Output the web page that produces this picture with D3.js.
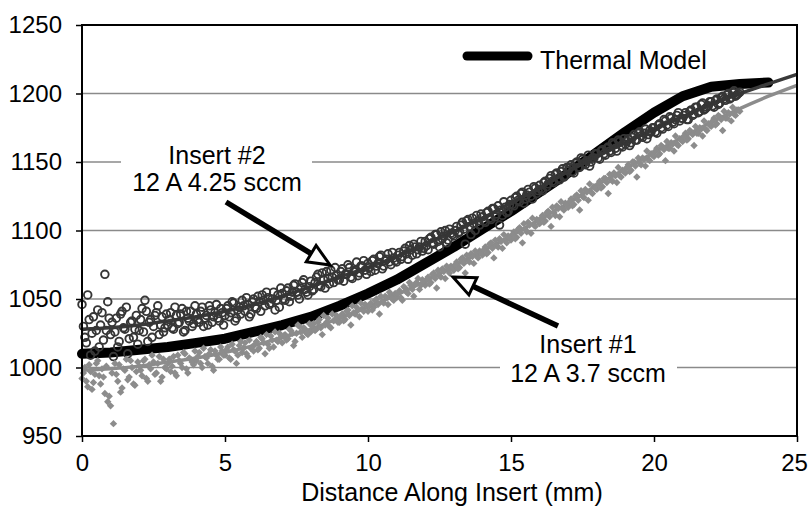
<!DOCTYPE html>
<html><head><meta charset="utf-8">
<script src="https://cdn.jsdelivr.net/npm/d3@7"></script>
<style>body{margin:0;background:#fff}svg{display:block}text{font-family:"Liberation Sans",Arial,sans-serif;fill:#000}</style>
</head><body><svg id="c" width="809" height="508"></svg>
<script>
// Measurement positions, scan A (mm)
const distance = [
0.0,0.1,0.2,0.3,0.4,0.5,0.6,0.7,0.8,0.9,
1.0,1.1,1.2,1.3,1.4,1.5,1.6,1.7,1.8,1.9,
2.0,2.1,2.2,2.3,2.4,2.5,2.6,2.7,2.8,2.9,
3.0,3.1,3.2,3.3,3.4,3.5,3.6,3.7,3.8,3.9,
4.0,4.1,4.2,4.3,4.4,4.5,4.6,4.7,4.8,4.9,
5.0,5.1,5.2,5.3,5.4,5.5,5.6,5.7,5.8,5.9,
6.0,6.1,6.2,6.3,6.4,6.5,6.6,6.7,6.8,6.9,
7.0,7.1,7.2,7.3,7.4,7.5,7.6,7.7,7.8,7.9,
8.0,8.1,8.2,8.3,8.4,8.5,8.6,8.7,8.8,8.9,
9.0,9.1,9.2,9.3,9.4,9.5,9.6,9.7,9.8,9.9,
10.0,10.1,10.2,10.3,10.4,10.5,10.6,10.7,10.8,10.9,
11.0,11.1,11.2,11.3,11.4,11.5,11.6,11.7,11.8,11.9,
12.0,12.1,12.2,12.3,12.4,12.5,12.6,12.7,12.8,12.9,
13.0,13.1,13.2,13.3,13.4,13.5,13.6,13.7,13.8,13.9,
14.0,14.1,14.2,14.3,14.4,14.5,14.6,14.7,14.8,14.9,
15.0,15.1,15.2,15.3,15.4,15.5,15.6,15.7,15.8,15.9,
16.0,16.1,16.2,16.3,16.4,16.5,16.6,16.7,16.8,16.9,
17.0,17.1,17.2,17.3,17.4,17.5,17.6,17.7,17.8,17.9,
18.0,18.1,18.2,18.3,18.4,18.5,18.6,18.7,18.8,18.9,
19.0,19.1,19.2,19.3,19.4,19.5,19.6,19.7,19.8,19.9,
20.0,20.1,20.2,20.3,20.4,20.5,20.6,20.7,20.8,20.9,
21.0,21.1,21.2,21.3,21.4,21.5,21.6,21.7,21.8,21.9,
22.0,22.1,22.2,22.3,22.4,22.5,22.6,22.7,22.8,22.9,
23.0];

// Measurement positions, scan B (mm)
const distanceB = [
0.05,0.15,0.25,0.35,0.45,0.55,0.65,0.75,0.85,0.95,
1.05,1.15,1.25,1.35,1.45,1.55,1.65,1.75,1.85,1.95,
2.05,2.15,2.25,2.35,2.45,2.55,2.65,2.75,2.85,2.95,
3.05,3.15,3.25,3.35,3.45,3.55,3.65,3.75,3.85,3.95,
4.05,4.15,4.25,4.35,4.45,4.55,4.65,4.75,4.85,4.95,
5.05,5.15,5.25,5.35,5.45,5.55,5.65,5.75,5.85,5.95,
6.05,6.15,6.25,6.35,6.45,6.55,6.65,6.75,6.85,6.95,
7.05,7.15,7.25,7.35,7.45,7.55,7.65,7.75,7.85,7.95,
8.05,8.15,8.25,8.35,8.45,8.55,8.65,8.75,8.85,8.95,
9.05,9.15,9.25,9.35,9.45,9.55,9.65,9.75,9.85,9.95,
10.05,10.15,10.25,10.35,10.45,10.55,10.65,10.75,10.85,10.95,
11.05,11.15,11.25,11.35,11.45,11.55,11.65,11.75,11.85,11.95,
12.05,12.15,12.25,12.35,12.45,12.55,12.65,12.75,12.85,12.95,
13.05,13.15,13.25,13.35,13.45,13.55,13.65,13.75,13.85,13.95,
14.05,14.15,14.25,14.35,14.45,14.55,14.65,14.75,14.85,14.95,
15.05,15.15,15.25,15.35,15.45,15.55,15.65,15.75,15.85,15.95,
16.05,16.15,16.25,16.35,16.45,16.55,16.65,16.75,16.85,16.95,
17.05,17.15,17.25,17.35,17.45,17.55,17.65,17.75,17.85,17.95,
18.05,18.15,18.25,18.35,18.45,18.55,18.65,18.75,18.85,18.95,
19.05,19.15,19.25,19.35,19.45,19.55,19.65,19.75,19.85,19.95,
20.05,20.15,20.25,20.35,20.45,20.55,20.65,20.75,20.85,20.95,
21.05,21.15,21.25,21.35,21.45,21.55,21.65,21.75,21.85,21.95,
22.05,22.15,22.25,22.35,22.45,22.55,22.65,22.75,22.85,22.95];

// Insert #2, 12 A 4.25 sccm (open circles), scan A
const insert2Temp = [
1046,1022,1053,1009,1037,1027,1015,1040,1068,1048,
1024,1008,1036,1019,1041,1028,1010,1033,1022,1038,
1027,1043,1049,1019,1035,1030,1040,1024,1037,1029,
1031,1040,1028,1038,1033,1043,1027,1036,1041,1032,
1039,1033,1044,1036,1031,1042,1037,1046,1034,1040,
1038,1045,1040,1047,1036,1044,1049,1041,1046,1039,
1050,1043,1048,1053,1045,1051,1047,1055,1049,1044,
1054,1049,1058,1052,1060,1055,1050,1062,1057,1053,
1063,1057,1066,1060,1069,1058,1065,1071,1062,1067,
1064,1072,1068,1075,1066,1070,1077,1069,1074,1071,
1076,1070,1079,1074,1081,1072,1078,1083,1075,1080,
1077,1084,1081,1087,1079,1086,1090,1083,1088,1085,
1092,1086,1095,1090,1097,1088,1094,1100,1093,1098,
1096,1103,1099,1106,1090,1108,1097,1105,1111,1104,
1110,1106,1114,1108,1116,1112,1104,1111,1117,1114,
1122,1118,1125,1121,1128,1123,1130,1125,1132,1127,
1133,1129,1136,1134,1140,1135,1142,1137,1145,1140,
1144,1148,1142,1150,1146,1152,1148,1155,1150,1153,
1156,1152,1159,1155,1161,1157,1163,1158,1165,1161,
1163,1167,1164,1170,1166,1172,1168,1174,1170,1172,
1175,1171,1178,1174,1180,1176,1182,1178,1184,1180,
1182,1186,1181,1188,1185,1190,1187,1193,1189,1191,
1194,1190,1196,1193,1198,1195,1200,1197,1202,1199,
1201];

// Insert #2, scan B
const insert2TempB = [
1030,1018,1035,1025,1012,1042,1031,1020,1027,1036,
1033,1026,1015,1039,1029,1044,1021,1034,1028,1017,
1035,1026,1041,1033,1022,1038,1045,1031,1026,1039,
1035,1029,1044,1032,1039,1026,1041,1034,1030,1045,
1035,1041,1030,1038,1045,1033,1040,1036,1043,1031,
1043,1037,1048,1034,1042,1039,1045,1051,1037,1048,
1044,1052,1041,1049,1055,1046,1050,1042,1053,1058,
1050,1056,1048,1055,1061,1053,1058,1064,1055,1059,
1056,1062,1068,1059,1064,1070,1061,1066,1073,1064,
1070,1063,1068,1073,1065,1071,1067,1074,1078,1068,
1073,1078,1071,1076,1082,1074,1079,1077,1084,1078,
1082,1079,1085,1083,1089,1082,1088,1086,1092,1087,
1089,1094,1091,1097,1092,1099,1096,1091,1101,1097,
1100,1098,1104,1101,1107,1103,1109,1100,1107,1112,
1107,1113,1109,1116,1110,1118,1115,1121,1113,1119,
1119,1124,1122,1127,1120,1126,1128,1123,1131,1129,
1130,1135,1132,1138,1136,1141,1138,1143,1139,1146,
1146,1143,1149,1146,1153,1149,1151,1147,1153,1156,
1153,1158,1156,1160,1158,1164,1160,1166,1162,1167,
1165,1162,1168,1166,1171,1169,1171,1167,1173,1175,
1172,1177,1175,1181,1177,1183,1179,1181,1186,1182,
1184,1181,1187,1184,1190,1186,1192,1188,1190,1194,
1191,1195,1192,1197,1196,1199,1196,1201,1198,1200];

// Insert #1, 12 A 3.7 sccm (diamonds), scan A
const insert1Temp = [
992,1000,986,997,989,1003,994,999,981,975,
972,959,995,1002,985,998,991,1005,988,997,
1001,994,1006,990,999,1004,996,1008,993,1000,
1003,997,1008,994,1005,1000,1010,996,1006,1002,
1005,1011,1000,1008,1003,1013,998,1009,1006,1012,
1009,1015,1006,1013,1003,1016,1011,1018,1008,1014,
1012,1019,1014,1021,1010,1017,1023,1015,1020,1025,
1018,1024,1021,1027,1016,1025,1030,1022,1028,1024,
1026,1032,1028,1035,1024,1031,1036,1029,1034,1038,
1033,1039,1035,1042,1031,1040,1044,1037,1043,1046,
1041,1047,1044,1050,1039,1048,1052,1046,1053,1049,
1051,1056,1049,1058,1054,1060,1052,1062,1057,1064,
1060,1066,1062,1069,1058,1067,1072,1065,1071,1074,
1071,1077,1073,1080,1069,1078,1083,1076,1082,1085,
1082,1088,1084,1091,1080,1089,1094,1087,1093,1096,
1093,1099,1095,1102,1091,1101,1106,1098,1104,1108,
1105,1111,1107,1114,1103,1113,1118,1110,1116,1120,
1117,1123,1119,1126,1115,1125,1130,1122,1128,1132,
1130,1136,1132,1138,1127,1137,1142,1135,1140,1144,
1142,1148,1144,1150,1139,1149,1153,1147,1152,1156,
1154,1160,1156,1161,1151,1160,1164,1158,1163,1167,
1165,1171,1167,1172,1162,1171,1175,1169,1174,1178,
1176,1182,1178,1183,1173,1182,1186,1180,1185,1188,
1187];

// Insert #1, scan B
const insert1TempB = [
996,990,1002,984,995,1005,988,993,1001,979,
996,1003,990,982,999,1006,993,1000,987,1004,
998,1005,992,1002,1009,995,1003,990,1006,999,
1006,1001,996,1009,1003,1011,999,1007,1004,1012,
1008,1003,1014,1007,1010,1001,1012,1006,1015,1009,
1013,1007,1017,1012,1009,1019,1014,1010,1020,1015,
1017,1013,1022,1018,1024,1014,1020,1026,1019,1022,
1023,1020,1028,1025,1019,1031,1026,1029,1025,1032,
1030,1027,1033,1029,1038,1033,1030,1039,1035,1033,
1037,1034,1041,1038,1045,1039,1042,1047,1041,1045,
1045,1042,1049,1046,1052,1047,1051,1055,1050,1054,
1054,1051,1059,1055,1062,1057,1061,1065,1060,1063,
1064,1061,1068,1065,1071,1066,1070,1074,1069,1073,
1075,1072,1079,1076,1082,1077,1081,1085,1080,1084,
1086,1083,1090,1087,1093,1088,1092,1097,1091,1095,
1097,1094,1101,1098,1105,1099,1104,1109,1103,1107,
1109,1106,1113,1110,1117,1111,1116,1121,1115,1119,
1121,1118,1125,1122,1129,1124,1128,1134,1127,1131,
1134,1131,1138,1135,1141,1136,1140,1146,1139,1143,
1146,1143,1150,1147,1153,1148,1152,1158,1151,1155,
1158,1155,1162,1159,1165,1160,1163,1169,1162,1166,
1169,1166,1173,1170,1176,1171,1174,1180,1173,1177,
1180,1177,1184,1181,1187,1182,1185,1190,1184,1188];

// Thermal model
const modelDistance = [0,1,2,3,4,5,6,7,8,9,10,11,12,13,14,15,16,17,18,19,20,21,22,23,24];
const modelTemp = [1010,1011,1013,1015,1018,1021,1026,1031,1037,1045,1054,1064,1076,1088,1101,1114,1128,1142,1157,1172,1186,1198,1205,1207,1208];

// Trend lines
const trendDistance = [0,1,2,3,4,5,6,7,8,9,10,11,12,13,14,15,16,17,18,19,20,21,22,23,24,25];
const insert2Trend = [1028,1029,1031,1034,1037,1041,1046,1052,1059,1066,1073,1081,1090,1099,1109,1120,1131,1143,1154,1164,1174,1183,1192,1200,1207,1214];
const insert1Trend = [998,999,1001,1004,1007,1011,1016,1022,1028,1036,1044,1053,1063,1074,1085,1096,1108,1120,1133,1145,1157,1168,1179,1189,1198,1206];

const xTicks = [0,5,10,15,20,25];
const yTicks = [950,1000,1050,1100,1150,1200,1250];
const xTitle = "Distance Along Insert (mm)";
const legendLabel = "Thermal Model";
const note2 = ["Insert #2","12 A 4.25 sccm"];
const note1 = ["Insert #1","12 A 3.7 sccm"];

const svg = d3.select("#c");
const L=82,R=797,T=25,B=436;
const x = d3.scaleLinear().domain([0,25]).range([L,R]);
const y = d3.scaleLinear().domain([950,1250]).range([B,T]);
const FS = 25, TFS = 24;

// gridlines
svg.append("g").selectAll("line").data(yTicks.filter(v=>v>950&&v<1250)).join("line")
  .attr("x1",L).attr("x2",R).attr("y1",d=>y(d)).attr("y2",d=>y(d))
  .attr("stroke","#8a8a8a").attr("stroke-width",1.6);

// thermal model
svg.append("path").datum(modelDistance.map((d,i)=>[d,modelTemp[i]]))
  .attr("d",d3.line().x(d=>x(d[0])).y(d=>y(d[1])))
  .attr("fill","none").attr("stroke","#000").attr("stroke-width",10)
  .attr("stroke-linejoin","round").attr("stroke-linecap","round");

// trend lines
const tl = d3.line().x(d=>x(d[0])).y(d=>y(d[1])).curve(d3.curveMonotoneX);
svg.append("path").datum(trendDistance.map((d,i)=>[d,insert2Trend[i]]))
  .attr("d",tl).attr("fill","none").attr("stroke","#3a3a3a").attr("stroke-width",3.5);
svg.append("path").datum(trendDistance.map((d,i)=>[d,insert1Trend[i]]))
  .attr("d",tl).attr("fill","none").attr("stroke","#8c8c8c").attr("stroke-width",3.5);

// insert #2 circles
const pts2 = distance.map((d,i)=>[d,insert2Temp[i]]).concat(distanceB.map((d,i)=>[d,insert2TempB[i]]));
svg.append("g").selectAll("circle").data(pts2).join("circle")
  .attr("cx",d=>x(d[0])).attr("cy",d=>y(d[1])).attr("r",3.8)
  .attr("fill","none").attr("stroke","#363636").attr("stroke-width",1.9);

// insert #1 diamonds
const pts1 = distance.map((d,i)=>[d,insert1Temp[i]]).concat(distanceB.map((d,i)=>[d,insert1TempB[i]]));
svg.append("g").selectAll("path").data(pts1).join("path")
  .attr("d",d=>{const cx=x(d[0]),cy=y(d[1]),s=3.7;return `M${cx},${cy-s}L${cx+s},${cy}L${cx},${cy+s}L${cx-s},${cy}Z`;})
  .attr("fill","#8c8c8c");

// plot border
svg.append("rect").attr("x",L).attr("y",T).attr("width",R-L).attr("height",B-T)
  .attr("fill","none").attr("stroke","#000").attr("stroke-width",2);

// axes
const gx = svg.append("g").attr("transform",`translate(0,${B})`)
  .call(d3.axisBottom(x).tickValues(xTicks).tickSize(6).tickPadding(12).tickFormat(d3.format("d")));
const gy = svg.append("g").attr("transform",`translate(${L},0)`)
  .call(d3.axisLeft(y).tickValues(yTicks).tickSize(6).tickPadding(14).tickFormat(d3.format("d")));
[gx,gy].forEach(g=>{
  g.select(".domain").remove();
  g.selectAll(".tick line").attr("stroke","#000").attr("stroke-width",1.5);
  g.selectAll("text").attr("font-size",TFS).attr("font-family","Liberation Sans, Arial, sans-serif");
});
gx.selectAll(".tick text").filter(d=>d===25).attr("dx",-3);

svg.append("text").attr("x",452).attr("y",501).attr("text-anchor","middle")
  .attr("font-size",FS).text(xTitle);

// legend
svg.append("line").attr("x1",467).attr("x2",528).attr("y1",56).attr("y2",56)
  .attr("stroke","#000").attr("stroke-width",9).attr("stroke-linecap","round");
svg.append("text").attr("x",540).attr("y",69).attr("font-size",FS).text(legendLabel);

// annotations
function note(lines,cx,y1,y2,box){
  svg.append("rect").attr("x",box[0]).attr("y",box[1]).attr("width",box[2]).attr("height",box[3]).attr("fill","#fff");
  svg.append("text").attr("x",cx).attr("y",y1).attr("text-anchor","middle").attr("font-size",FS).text(lines[0]);
  svg.append("text").attr("x",cx).attr("y",y2).attr("text-anchor","middle").attr("font-size",FS).text(lines[1]);
}
function arrow(x0,y0,tx,ty){
  const dx=tx-x0,dy=ty-y0,len=Math.hypot(dx,dy),ux=dx/len,uy=dy/len;
  const hl=22,hw=9.5;
  const bx=tx-ux*hl,by=ty-uy*hl;
  svg.append("line").attr("x1",x0).attr("y1",y0).attr("x2",bx).attr("y2",by)
    .attr("stroke","#000").attr("stroke-width",5.5);
  svg.append("path").attr("d",`M${tx},${ty}L${bx-uy*hw},${by+ux*hw}L${bx+uy*hw},${by-ux*hw}Z`)
    .attr("fill","#fff").attr("stroke","#000").attr("stroke-width",3).attr("stroke-linejoin","miter");
}
note(note2,217,164,191,[121,143,191,54]);
note(note1,588,353,382,[500,333,177,56]);
arrow(226,202,330,265);
arrow(558,326,453,277);
</script></body></html>
